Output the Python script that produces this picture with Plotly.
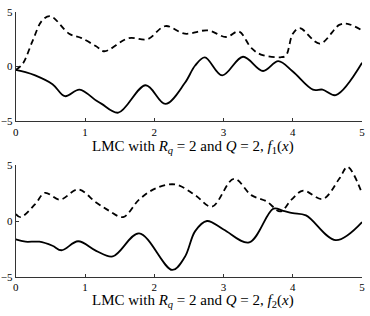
import plotly.graph_objects as go

# ---- data ----
x_f1_solid = [0.0, 0.14, 0.28, 0.53, 0.71, 0.92, 1.16, 1.24, 1.48, 1.875, 2.16, 2.44, 2.59, 2.73, 2.98, 3.28, 3.57, 3.79, 4.0, 4.29, 4.43, 4.62, 5.0]
y_f1_solid = [-0.3, -0.5, -0.8, -1.6, -2.7, -2.1, -3.1, -3.4, -4.2, -1.7, -3.4, -1.5, 0.1, 0.85, -0.8, 0.9, -0.4, 0.5, -0.45, -2.1, -2.1, -2.6, 0.35]

x_f1_dash = [0.0, 0.1, 0.24, 0.38, 0.5, 0.77, 0.95, 1.16, 1.28, 1.63, 1.9, 2.16, 2.44, 2.77, 3.04, 3.22, 3.4, 3.54, 3.82, 3.9, 4.0, 4.1, 4.39, 4.67, 4.79, 5.0]
y_f1_dash = [-0.3, 0.25, 2.3, 4.2, 4.6, 3.0, 2.6, 1.85, 1.4, 2.6, 2.5, 3.7, 3.0, 3.3, 2.7, 3.2, 1.7, 1.1, 0.85, 1.0, 3.0, 3.5, 2.1, 3.8, 3.9, 3.3]

x_f2_solid = [0.0, 0.14, 0.34, 0.53, 0.66, 0.9, 1.16, 1.4, 1.78, 2.26, 2.44, 2.59, 2.76, 3.0, 3.37, 3.72, 3.86, 4.0, 4.19, 4.62, 5.0]
y_f2_solid = [-1.64, -1.84, -1.84, -2.2, -2.6, -1.8, -2.65, -3.15, -1.1, -4.35, -3.2, -0.9, 0.0, -0.75, -1.9, 1.1, 0.9, 0.7, 0.5, -1.7, -0.1]

x_f2_dash = [0.0, 0.07, 0.28, 0.42, 0.64, 0.9, 1.16, 1.35, 1.55, 1.78, 2.02, 2.3, 2.59, 2.83, 3.15, 3.4, 3.62, 3.82, 3.98, 4.15, 4.43, 4.67, 4.79, 5.0]
y_f2_dash = [0.62, 0.35, 1.5, 2.5, 1.9, 2.8, 1.65, 0.9, 0.35, 1.9, 2.9, 3.25, 2.3, 1.27, 3.75, 2.3, 1.75, 0.85, 1.9, 2.7, 1.95, 3.75, 4.8, 2.45]

x_ticks = [0, 1, 2, 3, 4, 5]
y_ticks = [-5, 0, 5]
titles = [
    "LMC with <i>R<sub>q</sub></i> = 2 and <i>Q</i> = 2, <i>f</i><sub>1</sub>(<i>x</i>)",
    "LMC with <i>R<sub>q</sub></i> = 2 and <i>Q</i> = 2, <i>f</i><sub>2</sub>(<i>x</i>)",
]

W, H = 370, 316
FONT = "Liberation Serif"

fig = go.Figure()

def add_line(x, y, xa, ya, dash):
    fig.add_trace(go.Scatter(
        x=x, y=y, xaxis=xa, yaxis=ya, mode="lines",
        line=dict(color="black", width=1.8, dash=dash, shape="spline", smoothing=1.0),
        showlegend=False, hoverinfo="skip"))

add_line(x_f1_dash, y_f1_dash, "x", "y", "6px,4px")
add_line(x_f1_solid, y_f1_solid, "x", "y", "solid")
add_line(x_f2_dash, y_f2_dash, "x2", "y2", "6px,4px")
add_line(x_f2_solid, y_f2_solid, "x2", "y2", "solid")

xdom = [13 / W, 365 / W]
top_dom = [1 - 120 / H, 1 - 6 / H]
bot_dom = [1 - 282 / H, 1 - 165 / H]

axis_common = dict(
    showgrid=False, zeroline=False, showline=True, linecolor="#333333", linewidth=1,
    ticks="inside", ticklen=3, tickcolor="#333333",
    tickfont=dict(family=FONT, size=11, color="black"),
)

fig.update_layout(
    width=W, height=H,
    margin=dict(l=0, r=0, t=0, b=0),
    paper_bgcolor="white", plot_bgcolor="white",
    xaxis=dict(domain=xdom, range=[0, 5], tickvals=x_ticks, anchor="y", **axis_common),
    yaxis=dict(domain=top_dom, range=[-5, 5], tickvals=y_ticks, anchor="x", **axis_common),
    xaxis2=dict(domain=xdom, range=[0, 5], tickvals=x_ticks, anchor="y2", **axis_common),
    yaxis2=dict(domain=bot_dom, range=[-5, 5], tickvals=y_ticks, anchor="x2", **axis_common),
)

for t, ytop in zip(titles, [136, 296]):
    fig.add_annotation(
        text=t, x=(13 + 365) / 2 / W + 0.01, y=1 - ytop / H, xref="paper", yref="paper",
        showarrow=False, xanchor="center", yanchor="top", borderpad=0,
        font=dict(family=FONT, size=15, color="black"))

fig.write_html("out.html")
